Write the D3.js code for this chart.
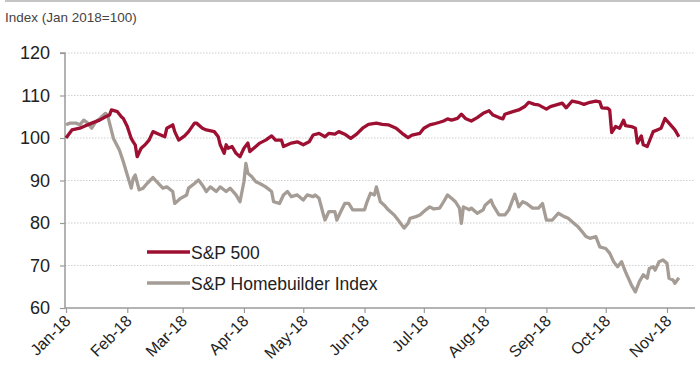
<!DOCTYPE html>
<html>
<head>
<meta charset="utf-8">
<script src="https://cdn.jsdelivr.net/npm/d3@7"></script>
<style>
  html, body { margin: 0; padding: 0; background: #fff; }
  svg { display: block; font-family: "Liberation Sans", Arial, Helvetica, sans-serif; }
</style>
</head>
<body>
<svg id="chart" width="700" height="383"></svg>
<script>
// ---- Data ----
const yTicks = [60, 70, 80, 90, 100, 110, 120];
const xTickLabels = ["Jan-18","Feb-18","Mar-18","Apr-18","May-18","Jun-18","Jul-18","Aug-18","Sep-18","Oct-18","Nov-18"];
const seriesNames = ["S&P 500", "S&P Homebuilder Index"];
const seriesColors = ["#9e1032", "#a59c95"];

const spDates = ["2018-01-01","2018-01-04","2018-01-08","2018-01-10","2018-01-14","2018-01-18","2018-01-21","2018-01-23","2018-01-24","2018-01-27","2018-01-29","2018-01-30","2018-02-01","2018-02-03","2018-02-04","2018-02-05","2018-02-06","2018-02-08","2018-02-10","2018-02-12","2018-02-14","2018-02-17","2018-02-20","2018-02-21","2018-02-24","2018-02-25","2018-02-27","2018-03-02","2018-03-04","2018-03-07","2018-03-08","2018-03-11","2018-03-13","2018-03-17","2018-03-19","2018-03-20","2018-03-22","2018-03-23","2018-03-24","2018-03-26","2018-03-28","2018-03-30","2018-04-01","2018-04-03","2018-04-04","2018-04-07","2018-04-09","2018-04-12","2018-04-15","2018-04-17","2018-04-20","2018-04-21","2018-04-25","2018-04-28","2018-05-01","2018-05-04","2018-05-06","2018-05-09","2018-05-12","2018-05-14","2018-05-17","2018-05-19","2018-05-22","2018-05-25","2018-05-28","2018-05-31","2018-06-03","2018-06-07","2018-06-10","2018-06-13","2018-06-17","2018-06-20","2018-06-23","2018-06-25","2018-06-29","2018-07-01","2018-07-04","2018-07-06","2018-07-09","2018-07-11","2018-07-13","2018-07-15","2018-07-18","2018-07-20","2018-07-22","2018-07-25","2018-07-28","2018-07-31","2018-08-03","2018-08-05","2018-08-08","2018-08-10","2018-08-11","2018-08-15","2018-08-18","2018-08-21","2018-08-23","2018-08-26","2018-08-28","2018-09-01","2018-09-03","2018-09-06","2018-09-09","2018-09-11","2018-09-14","2018-09-17","2018-09-20","2018-09-23","2018-09-26","2018-09-28","2018-09-29","2018-10-02","2018-10-03","2018-10-04","2018-10-06","2018-10-08","2018-10-10","2018-10-11","2018-10-14","2018-10-16","2018-10-17","2018-10-19","2018-10-20","2018-10-22","2018-10-25","2018-10-27","2018-10-29","2018-10-31","2018-11-02","2018-11-05","2018-11-07"];
const spValues = [100,101.9,102.3,102.7,103.5,104.2,105,105.4,106.6,106.2,105,104.6,102.7,99.9,99.1,98.4,95.6,97.6,98.4,99.5,101.5,100.9,100.3,102.3,103.1,101.5,99.5,100.5,101.5,103.5,103.5,102.3,101.9,101.5,100.3,98.4,96.4,98.4,97.6,98,96.4,95.6,97.6,98.8,96.8,98,98.8,99.5,100.5,99.5,99.5,98,98.8,99.1,98.4,99.1,100.7,101.1,100.3,101.1,100.9,101.5,100.9,99.9,100.9,102.3,103.2,103.5,103.2,103.1,102.3,101.1,100.1,100.7,101.1,102.3,103.1,103.3,103.7,104,104.5,104.2,104.6,105.6,104.6,104,104.8,105.8,106.4,105.4,104.8,104.5,105.6,106.2,106.6,107.4,108.4,107.9,107.8,106.8,107.4,107.8,108.2,107.1,108.7,108.4,107.9,108.4,108.7,108.5,107.1,107,106.6,101.3,102.7,102.3,104.2,102.9,102.7,102.3,98.8,100.5,98.4,98,101.5,101.9,102.3,104.6,103.5,101.9,100.3];

const hbDates = ["2018-01-01","2018-01-03","2018-01-06","2018-01-08","2018-01-10","2018-01-12","2018-01-14","2018-01-16","2018-01-18","2018-01-19","2018-01-21","2018-01-22","2018-01-25","2018-01-28","2018-01-30","2018-02-01","2018-02-03","2018-02-04","2018-02-05","2018-02-07","2018-02-09","2018-02-11","2018-02-14","2018-02-16","2018-02-19","2018-02-21","2018-02-24","2018-02-25","2018-02-28","2018-03-03","2018-03-04","2018-03-07","2018-03-09","2018-03-11","2018-03-13","2018-03-15","2018-03-18","2018-03-20","2018-03-23","2018-03-25","2018-03-28","2018-03-30","2018-04-01","2018-04-02","2018-04-03","2018-04-05","2018-04-07","2018-04-09","2018-04-12","2018-04-15","2018-04-16","2018-04-19","2018-04-21","2018-04-23","2018-04-25","2018-04-28","2018-05-01","2018-05-03","2018-05-06","2018-05-07","2018-05-09","2018-05-11","2018-05-12","2018-05-14","2018-05-17","2018-05-18","2018-05-20","2018-05-22","2018-05-24","2018-05-26","2018-05-28","2018-06-01","2018-06-02","2018-06-04","2018-06-06","2018-06-07","2018-06-09","2018-06-11","2018-06-13","2018-06-16","2018-06-18","2018-06-21","2018-06-23","2018-06-24","2018-06-27","2018-06-29","2018-07-02","2018-07-04","2018-07-06","2018-07-09","2018-07-11","2018-07-13","2018-07-15","2018-07-17","2018-07-19","2018-07-20","2018-07-21","2018-07-24","2018-07-25","2018-07-28","2018-07-31","2018-08-01","2018-08-04","2018-08-05","2018-08-08","2018-08-11","2018-08-13","2018-08-16","2018-08-18","2018-08-20","2018-08-22","2018-08-25","2018-08-28","2018-08-30","2018-09-01","2018-09-04","2018-09-07","2018-09-10","2018-09-12","2018-09-15","2018-09-17","2018-09-19","2018-09-21","2018-09-23","2018-09-26","2018-09-28","2018-10-01","2018-10-03","2018-10-05","2018-10-07","2018-10-09","2018-10-11","2018-10-14","2018-10-16","2018-10-18","2018-10-20","2018-10-22","2018-10-23","2018-10-25","2018-10-26","2018-10-28","2018-10-30","2018-11-01","2018-11-02","2018-11-04","2018-11-05","2018-11-07"];
const hbValues = [103.1,103.5,103.5,103.1,104.2,103.5,102.3,103.8,104.5,105,105.8,105.4,99.9,97.2,94.4,91.3,88.2,90.5,91.3,87.8,88.2,89.3,90.7,89.7,88.2,88.5,87.4,84.6,85.8,86.6,88.2,89.3,90.1,88.9,87.4,88.5,87.4,88.5,87.4,88.2,86.6,85,89.7,94,91.7,90.9,89.7,89.3,88.5,87.4,85,84.6,86.6,87.4,86.2,86.6,85.4,86.6,86.2,86.6,85.8,82.3,80.7,82.7,82.7,80.7,82.7,84.6,84.6,83.1,83.1,83.1,84.6,87,86.6,88.5,85,84.2,83.1,81.9,80.7,78.8,79.9,81.1,81.5,81.9,83.1,83.8,83.3,83.5,85,86.6,85.8,85,83.5,79.9,83.8,83.1,83.5,82.3,83.1,84.2,85.4,84.2,81.9,81.9,83.1,86.8,83.8,85,84.6,83.5,83.5,84.6,80.7,80.7,82.3,81.5,81.1,79.9,79.1,78,76.8,76.4,76.8,74.4,74,72.9,70.9,69.7,70.9,68.5,65.4,63.8,66.2,67.8,67,69.3,69.7,68.9,70.9,71.3,70.5,67,66.6,65.8,67.1];

// ---- Chart ----
const svg = d3.select("#chart");
const parse = d3.timeParse("%Y-%m-%d");

const x = d3.scaleTime()
  .domain([parse("2018-01-01"), parse("2018-11-15")])
  .range([66, 694.7]);
const y = d3.scaleLinear().domain([60, 120]).range([308, 53]);

const plotLeft = 65, plotRight = 695;

// top rule
svg.append("line").attr("x1", 5).attr("x2", 700).attr("y1", 1).attr("y2", 1)
  .attr("stroke", "#8a8a8a").attr("stroke-width", 1.2);

// title
svg.append("text").attr("x", 5).attr("y", 22)
  .attr("font-size", 13.5).attr("fill", "#444")
  .text("Index (Jan 2018=100)");

// gridlines
svg.append("g").selectAll("line").data(yTicks.filter(d => d !== 60)).join("line")
  .attr("x1", plotLeft).attr("x2", plotRight)
  .attr("y1", d => y(d)).attr("y2", d => y(d))
  .attr("stroke", "#cfcfcf").attr("stroke-width", 1).attr("stroke-dasharray", "1.5,1.5");

// y axis
const yAxis = d3.axisLeft(y).tickValues(yTicks).tickSize(5).tickPadding(10);
const gy = svg.append("g").attr("transform", `translate(${plotLeft},0)`).call(yAxis);
gy.select(".domain").attr("stroke", "#9a9a9a").attr("stroke-width", 1.5).attr("d", `M-5,${y(120)}H0V${y(60)}`);
gy.selectAll(".tick line").attr("stroke", "#9a9a9a").attr("stroke-width", 1.2);
gy.selectAll(".tick text").attr("font-size", 18).attr("fill", "#222")
  .attr("font-family", "'Liberation Sans', Arial, sans-serif");

// x axis
const monthTicks = d3.range(11).map(i => new Date(2018, i, 1));
const xAxis = d3.axisBottom(x).tickValues(monthTicks).tickSize(5)
  .tickFormat((d, i) => xTickLabels[i]);
const gx = svg.append("g").attr("transform", `translate(0,${y(60)})`).call(xAxis);
gx.select(".domain").attr("stroke", "#9a9a9a").attr("stroke-width", 1.5)
  .attr("d", `M${plotLeft},0H${plotRight}`);
gx.selectAll(".tick line").attr("stroke", "#9a9a9a").attr("stroke-width", 1.2);
gx.selectAll(".tick text")
  .attr("font-size", 16).attr("fill", "#222")
  .attr("font-family", "'Liberation Sans', Arial, sans-serif")
  .attr("text-anchor", "end")
  .attr("dy", null).attr("y", 0)
  .attr("transform", "translate(5,14) rotate(-45)");

// lines
const line = d3.line().x(d => x(d.date)).y(d => y(d.value));
const spData = spDates.map((d, i) => ({ date: parse(d), value: spValues[i] }));
const hbData = hbDates.map((d, i) => ({ date: parse(d), value: hbValues[i] }));

svg.append("path").datum(hbData).attr("d", line)
  .attr("fill", "none").attr("stroke", seriesColors[1]).attr("stroke-width", 3.3)
  .attr("stroke-linejoin", "round");
svg.append("path").datum(spData).attr("d", line)
  .attr("fill", "none").attr("stroke", seriesColors[0]).attr("stroke-width", 3.3)
  .attr("stroke-linejoin", "round");

// legend
const legend = svg.append("g");
const legendY = [252, 283];
seriesNames.forEach((name, i) => {
  legend.append("line").attr("x1", 147).attr("x2", 190)
    .attr("y1", legendY[i]).attr("y2", legendY[i])
    .attr("stroke", seriesColors[i]).attr("stroke-width", 3.5);
  legend.append("text").attr("x", 191).attr("y", legendY[i] + 6.5)
    .attr("font-size", 17.5).attr("fill", "#222").text(name);
});
</script>
</body>
</html>
